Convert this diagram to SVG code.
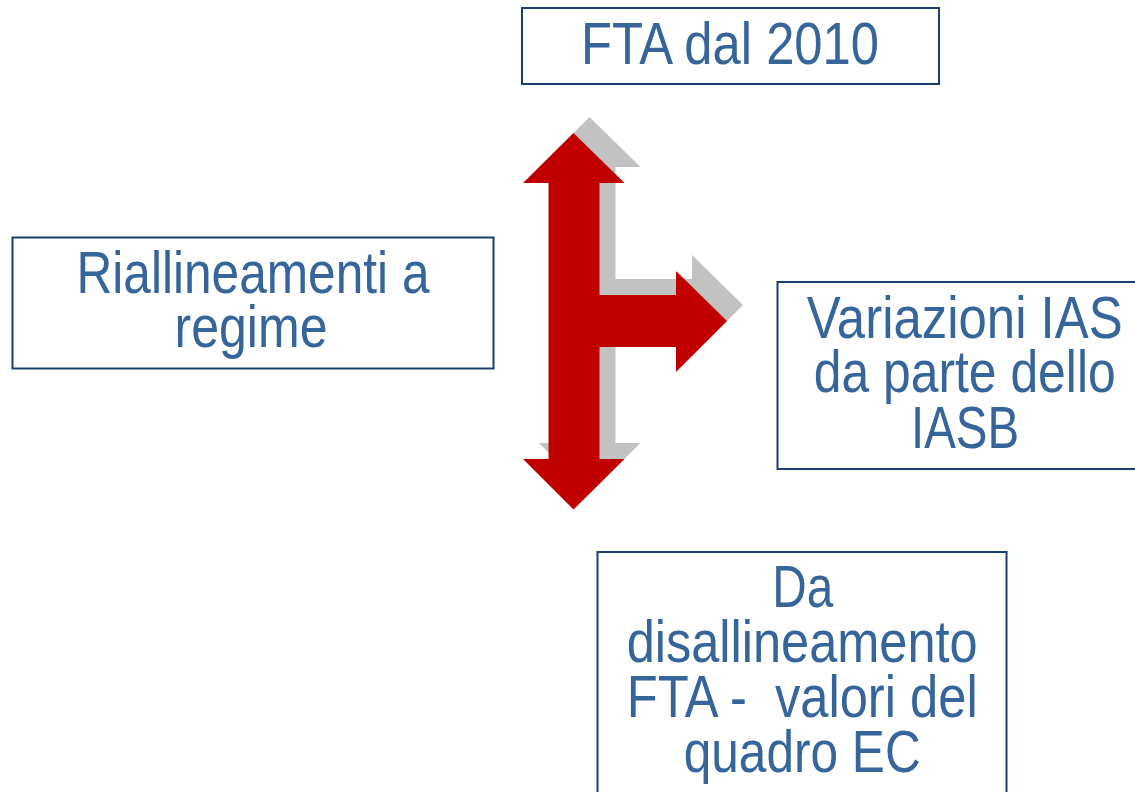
<svg xmlns="http://www.w3.org/2000/svg" width="1135" height="792" viewBox="0 0 1135 792">
<style>
.box{fill:#ffffff;stroke:#1b3f6e;stroke-width:2}
.t{font-family:"Liberation Sans Narrow","Arial Narrow","Liberation Sans",Arial,sans-serif;font-size:60px;fill:#35659a;text-anchor:middle;white-space:pre}
</style>
<defs>
<polygon id="arrowShape" points="573.5,133 624.5,183 599.5,183 599.5,295 676,295 676,271 727,321 676,372 676,347 599.5,347 599.5,459 624.5,459 573.5,509.5 523,459 548.5,459 548.5,183 523,183"/>
</defs>
<rect width="1135" height="792" fill="#ffffff"/>
<g id="connectors">
<use href="#arrowShape" transform="translate(16,-16)" fill="#c2c2c2"/>
<use href="#arrowShape" fill="#c00000"/>
</g>
<g id="node-fta">
<rect class="box" x="522" y="8" width="417" height="76"/>
<text class="t" x="730" y="64" textLength="298" lengthAdjust="spacingAndGlyphs">FTA dal 2010</text>
</g>
<g id="node-riallineamenti">
<rect class="box" x="12.5" y="237.5" width="481" height="131"/>
<text class="t" x="253" y="292.5" textLength="353" lengthAdjust="spacingAndGlyphs">Riallineamenti a</text>
<text class="t" x="251" y="346.5" textLength="153" lengthAdjust="spacingAndGlyphs">regime</text>
</g>
<g id="node-variazioni">
<rect class="box" x="777.5" y="282" width="380" height="187"/>
<text class="t" x="964.7" y="337.5" textLength="316" lengthAdjust="spacingAndGlyphs">Variazioni IAS</text>
<text class="t" x="964.7" y="391.5" textLength="302" lengthAdjust="spacingAndGlyphs">da parte dello</text>
<text class="t" x="965" y="448" textLength="108" lengthAdjust="spacingAndGlyphs">IASB</text>
</g>
<g id="node-disallineamento">
<rect class="box" x="597.5" y="552" width="409" height="260"/>
<text class="t" x="802.7" y="606.5" textLength="61" lengthAdjust="spacingAndGlyphs">Da</text>
<text class="t" x="802.2" y="661.5" textLength="351" lengthAdjust="spacingAndGlyphs">disallineamento</text>
<text class="t" x="802.2" y="716.5" textLength="351" lengthAdjust="spacingAndGlyphs">FTA -  valori del</text>
<text class="t" x="802.2" y="771.5" textLength="237" lengthAdjust="spacingAndGlyphs">quadro EC</text>
</g>
</svg>
